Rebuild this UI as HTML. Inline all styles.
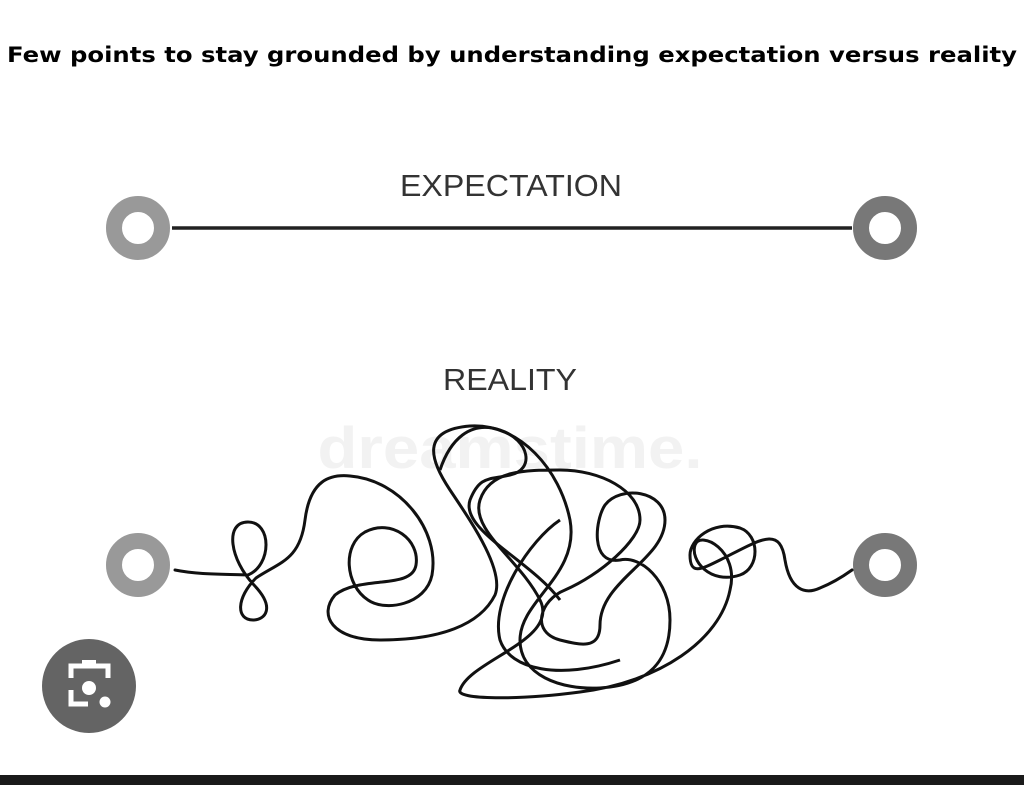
<!DOCTYPE html>
<html><head><meta charset="utf-8"><style>
html,body{margin:0;padding:0;background:#fff;width:1024px;height:785px;overflow:hidden}
</style></head><body>
<svg width="1024" height="785" viewBox="0 0 1024 785" xmlns="http://www.w3.org/2000/svg">
<rect width="1024" height="785" fill="#fff"/>
<text x="512" y="62" text-anchor="middle" font-family="DejaVu Sans, sans-serif" font-weight="bold" font-size="21" fill="#000" textLength="1010" lengthAdjust="spacingAndGlyphs">Few points to stay grounded by understanding expectation versus reality</text>
<text x="511" y="196" text-anchor="middle" font-family="Liberation Sans, sans-serif" font-size="31" fill="#333" textLength="222" lengthAdjust="spacingAndGlyphs">EXPECTATION</text>
<text x="510" y="390" text-anchor="middle" font-family="Liberation Sans, sans-serif" font-size="31" fill="#333" textLength="134" lengthAdjust="spacingAndGlyphs">REALITY</text>
<text x="510" y="468" text-anchor="middle" font-family="Liberation Sans, sans-serif" font-weight="bold" font-size="58" fill="#f2f2f2" textLength="385" lengthAdjust="spacingAndGlyphs">dreamstime.</text>
<circle cx="138" cy="228" r="24" fill="none" stroke="#999" stroke-width="16"/>
<circle cx="885" cy="228" r="24" fill="none" stroke="#787878" stroke-width="16"/>
<line x1="172" y1="228" x2="852" y2="228" stroke="#222" stroke-width="3.5"/>
<circle cx="138" cy="565" r="24" fill="none" stroke="#999" stroke-width="16"/>
<circle cx="885" cy="565" r="24" fill="none" stroke="#787878" stroke-width="16"/>
<path fill="none" stroke="#111" stroke-width="3" stroke-linecap="round"
d="M175,570 C200,575 225,574 248,575 C272,565 272,522 248,522 C224,522 230,560 254,585 C276,608 265,620 253,620 C236,620 236,598 256,578 C280,562 300,560 305,520 C310,480 330,474 350,476 C400,480 440,530 432,575 C426,605 385,612 368,600 C345,585 342,545 365,532 C392,518 420,540 416,565 C412,590 360,575 335,595 C318,615 332,640 380,640 C440,640 480,625 495,595 C505,570 470,520 450,490 C430,460 420,430 470,426 C520,423 560,470 570,520 C580,575 520,600 520,640 C520,675 560,690 600,688 C650,685 670,660 670,620 C670,580 640,555 620,560 C590,565 595,520 605,505 C620,485 665,490 665,520 C665,560 600,580 600,625 C600,650 580,645 560,640 C530,632 540,600 565,590 C600,575 640,540 640,520 C640,490 600,470 560,470 C525,470 490,470 480,500 C470,530 520,560 540,600 C560,640 470,660 460,690 C455,700 520,700 580,692 C660,682 720,640 730,590 C740,550 700,530 695,545 C690,560 710,585 740,575 C760,568 760,535 740,528 C712,520 690,540 690,555 C690,575 700,570 720,560 C760,540 780,525 785,560 C790,590 805,595 820,588 C835,582 845,575 852,570"/>
<path fill="none" stroke="#111" stroke-width="3" d="M440,470 C450,440 470,420 500,430 C530,440 535,470 510,475 C490,480 480,475 470,500 C460,530 530,560 560,600 M560,520 C530,540 490,600 500,640 C510,670 560,680 620,660"/>
<circle cx="89" cy="686" r="47" fill="#646464"/>
<g fill="none" stroke="#fff" stroke-width="5">
<path d="M71,678 L71,666 L108,666 L108,678"/>
<path d="M71,690 L71,704 L88,704"/>
<rect x="82" y="660" width="14" height="6" fill="#fff" stroke="none"/>
</g>
<circle cx="89" cy="688" r="7" fill="#fff"/>
<circle cx="105" cy="702" r="5.5" fill="#fff"/>
<rect x="0" y="775" width="1024" height="10" fill="#1a1a1a"/>
</svg>
</body></html>
